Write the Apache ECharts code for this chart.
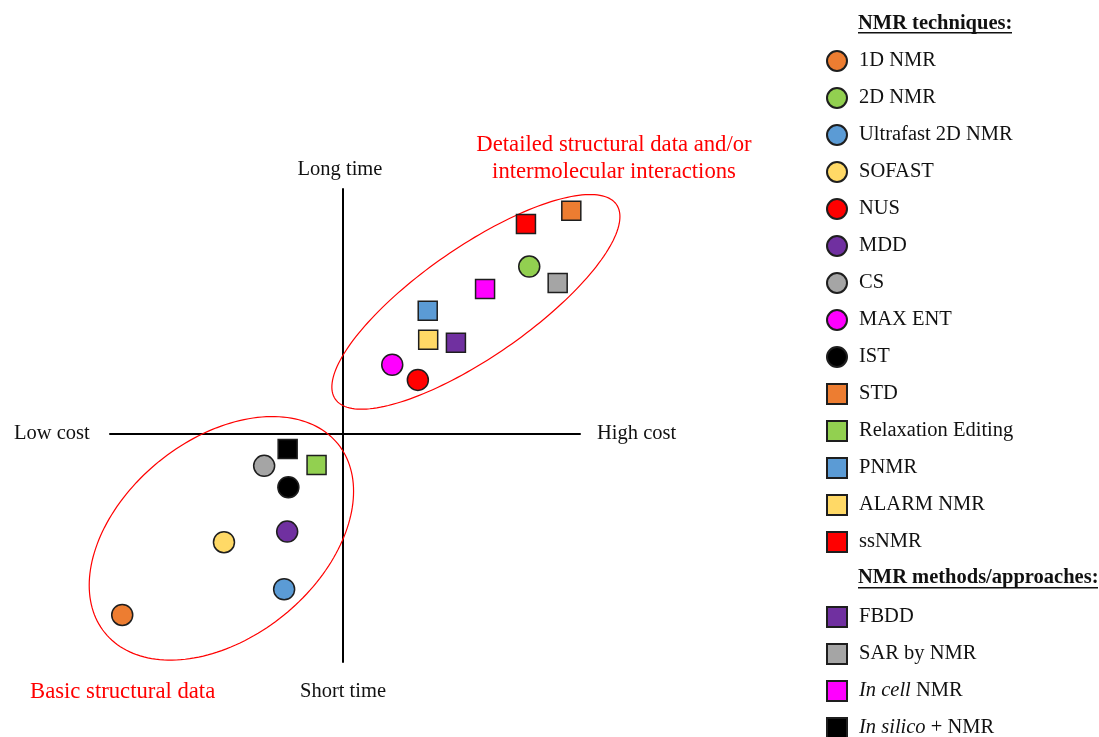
<!DOCTYPE html>
<html>
<head>
<meta charset="utf-8">
<script src="https://cdn.jsdelivr.net/npm/echarts@6/dist/echarts.min.js"></script>
<style>
html,body{margin:0;padding:0;background:#fff;}
#chart{width:1099px;height:737px;}
</style>
</head>
<body>
<div id="chart"></div>
<script>
// ---- data ----
const techniqueNames = ['1D NMR','2D NMR','Ultrafast 2D NMR','SOFAST','NUS','MDD','CS','MAX ENT','IST','STD','Relaxation Editing','PNMR','ALARM NMR','ssNMR'];
const methodNames = ['FBDD','SAR by NMR','In cell NMR','In silico + NMR'];
const categories = techniqueNames.concat(methodNames);
const costValues = [-9.38, 7.94, -2.49, -5.05, 3.20, -2.36, -3.34, 2.11, -2.31, 9.73, -1.11, 3.62, 3.64, 7.80, 4.82, 9.15, 6.06, -2.34];
const timeValues = [-7.54, 6.97, -6.47, -4.51, 2.25, -4.07, -1.33, 2.88, -2.22, 9.29, -1.29, 5.13, 3.92, 8.74, 3.80, 6.28, 6.03, -0.63];
const markerShapes = ['circle','circle','circle','circle','circle','circle','circle','circle','circle','rect','rect','rect','rect','rect','rect','rect','rect','rect'];
const markerColors = ['#ED7D31','#92D050','#5B9BD5','#FFD966','#FF0000','#7030A0','#A5A5A5','#FF00FF','#000000','#ED7D31','#92D050','#5B9BD5','#FFD966','#FF0000','#7030A0','#A5A5A5','#FF00FF','#000000'];
// group ellipses (centre in data units)
const ellipseCenterX = [5.67, -5.16];
const ellipseCenterY = [5.50, -4.35];

// ---- styles ----
const FONT = 'Liberation Serif';
const FS = 20.5;
const ellipseStyle = [ {rx:171, ry:55, angle:34.7}, {rx:150, ry:99, angle:39} ];

const series = categories.map((name, i) => ({
  name: name,
  type: 'scatter',
  symbol: markerShapes[i],
  symbolSize: markerShapes[i] === 'circle' ? 21 : 19,
  itemStyle: { color: markerColors[i], borderColor: '#1e1e1e', borderWidth: 1.5, opacity: 1 },
  emphasis: { disabled: true },
  data: [[costValues[i], timeValues[i]]],
  z: 3
}));

series.push({
  type: 'custom',
  silent: true,
  z: 2,
  data: ellipseCenterX.map((x, i) => [x, ellipseCenterY[i], i]),
  renderItem: function (params, api) {
    const c = api.coord([api.value(0), api.value(1)]);
    const st = ellipseStyle[api.value(2)];
    const th = st.angle * Math.PI / 180;
    const pts = [];
    for (let k = 0; k < 180; k++) {
      const t = k / 180 * 2 * Math.PI;
      const ex = st.rx * Math.cos(t), ey = st.ry * Math.sin(t);
      pts.push([c[0] + ex * Math.cos(th) - ey * Math.sin(th), c[1] - (ex * Math.sin(th) + ey * Math.cos(th))]);
    }
    return { type: 'polygon', shape: { points: pts }, style: { fill: 'none', stroke: '#FF0000', lineWidth: 1.2 } };
  }
});

const legendText = {
  fontFamily: FONT, fontSize: FS, color: '#111', lineHeight: 20, padding: [0,0,0,7],
  rich: { i: { fontFamily: FONT, fontSize: FS, fontStyle: 'italic', color: '#111', lineHeight: 20 } }
};
function legendFormatter(name) {
  if (name === 'In cell NMR') return '{i|In cell} NMR';
  if (name === 'In silico + NMR') return '{i|In silico} + NMR';
  return name;
}

function txt(text, x, y, align, color, size, bold) {
  return {
    type: 'text', x: x, y: y, silent: true,
    style: { text: text, fontFamily: FONT, fontSize: size || FS, fontWeight: bold ? 'bold' : 'normal',
             fill: color || '#111', textAlign: align || 'left', textVerticalAlign: 'middle' }
  };
}

const option = {
  animation: false,
  backgroundColor: '#fff',
  grid: { left: 110, top: 189, width: 470, height: 473, containLabel: false },
  xAxis: {
    type: 'value', min: -9.9, max: 10.1,
    axisLine: { onZero: true, lineStyle: { color: '#000', width: 2 } },
    axisTick: { show: false }, axisLabel: { show: false }, splitLine: { show: false }
  },
  yAxis: {
    type: 'value', min: -9.5, max: 10.2,
    axisLine: { onZero: true, lineStyle: { color: '#000', width: 2 } },
    axisTick: { show: false }, axisLabel: { show: false }, splitLine: { show: false }
  },
  legend: [
    {
      data: techniqueNames, orient: 'vertical', left: 826, top: 50, padding: 0, height: 560,
      itemWidth: 20, itemHeight: 20, itemGap: 15, selectedMode: false,
      textStyle: legendText, formatter: legendFormatter
    },
    {
      data: methodNames, orient: 'vertical', left: 826, top: 606, padding: 0, height: 160,
      itemWidth: 20, itemHeight: 20, itemGap: 15, selectedMode: false,
      textStyle: legendText, formatter: legendFormatter
    }
  ],
  graphic: [
    txt('NMR techniques:', 858, 24, 'left', '#111', FS, true),
    { type: 'rect', silent: true, shape: { x: 858, y: 32, width: 154, height: 1.5 }, style: { fill: '#111' } },
    txt('NMR methods/approaches:', 858, 578, 'left', '#111', FS, true),
    { type: 'rect', silent: true, shape: { x: 858, y: 587, width: 240, height: 1.5 }, style: { fill: '#111' } },
    txt('Long time', 340, 170, 'center'),
    txt('Short time', 343, 692, 'center'),
    txt('Low cost', 14, 434, 'left'),
    txt('High cost', 597, 434, 'left'),
    txt('Detailed structural data and/or', 614, 145, 'center', '#FF0000', 22.7),
    txt('intermolecular interactions', 614, 172, 'center', '#FF0000', 22.7),
    txt('Basic structural data', 30, 692, 'left', '#FF0000', 22.7)
  ],
  series: series
};

const chart = echarts.init(document.getElementById('chart'), null, { renderer: 'canvas' });
chart.setOption(option);
</script>
</body>
</html>
